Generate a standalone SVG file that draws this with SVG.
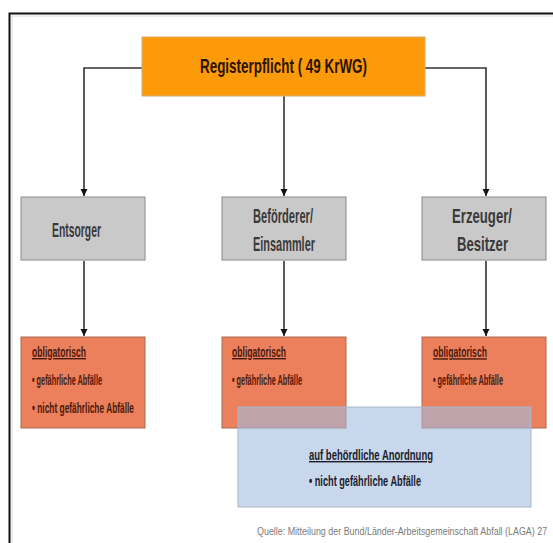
<svg xmlns="http://www.w3.org/2000/svg" width="553" height="543" viewBox="0 0 553 543">
<defs>
<marker id="arr" viewBox="0 0 10 10" refX="10" refY="5" markerWidth="7" markerHeight="8" markerUnits="userSpaceOnUse" orient="auto">
<path d="M0,0 L10,5 L0,10 z" fill="#111"/>
</marker>
<style>
.t{font-family:"Liberation Sans",Arial,sans-serif;}
.head{font-size:21px;font-weight:bold;fill:#2a1400;}
.gray rect{fill:#c9c9c9;stroke:#9a9a9a;stroke-width:1.2;}
.gl{font-size:21px;font-weight:bold;fill:#3a3a3a;}
.red rect{fill:#ec7f5c;stroke:#a86a55;stroke-width:1;}
.rl{font-size:14px;font-weight:bold;fill:#4a1a0c;}
.rb{text-decoration:underline;}
.conn path{fill:none;stroke:#333;stroke-width:1.6;}
.src{font-size:11px;fill:#7a7a7a;}
</style>
</defs>
<rect width="553" height="543" fill="#fff"/>
<path d="M9.5,543 V13.5 H553" fill="none" stroke="#111" stroke-width="2"/>
<path d="M12,543 V16 H553" fill="none" stroke="#ddd" stroke-width="1"/>

<g class="conn">
<path d="M142,68 H84 V196" marker-end="url(#arr)"/>
<path d="M284,96 V196" marker-end="url(#arr)"/>
<path d="M425,68 H486 V196" marker-end="url(#arr)"/>
<path d="M84,261 V336" marker-end="url(#arr)"/>
<path d="M284,261 V336" marker-end="url(#arr)"/>
<path d="M486,261 V336" marker-end="url(#arr)"/>
</g>

<g id="registerpflicht">
<rect x="142" y="37" width="283" height="59" fill="#fd9a0a" stroke="#d9a870" stroke-width="1"/>
<text class="t head" x="200" y="73" textLength="167" lengthAdjust="spacingAndGlyphs">Registerpflicht ( 49 KrWG)</text>
</g>

<g id="entsorger" class="gray">
<rect x="21" y="197" width="124" height="63"/>
<text class="t gl" x="52" y="237" textLength="49" lengthAdjust="spacingAndGlyphs">Entsorger</text>
</g>
<g id="befoerderer" class="gray">
<rect x="222" y="197" width="124" height="63"/>
<text class="t gl" x="253" y="223" textLength="60" lengthAdjust="spacingAndGlyphs">Beförderer/</text>
<text class="t gl" x="253" y="251" textLength="62" lengthAdjust="spacingAndGlyphs">Einsammler</text>
</g>
<g id="erzeuger" class="gray">
<rect x="422" y="197" width="124" height="63"/>
<text class="t gl" transform="translate(452,223) scale(0.6,1)" textLength="100" lengthAdjust="spacingAndGlyphs">Erzeuger/</text>
<text class="t gl" transform="translate(457,251) scale(0.6,1)" textLength="85" lengthAdjust="spacingAndGlyphs">Besitzer</text>
</g>

<g id="obl-entsorger" class="red">
<rect x="21" y="337" width="124" height="91"/>
<text class="t rl rb" x="32" y="357" textLength="54" lengthAdjust="spacingAndGlyphs">obligatorisch</text>
<text class="t rl" x="32" y="385" textLength="70" lengthAdjust="spacingAndGlyphs">• gefährliche Abfälle</text>
<text class="t rl" x="32" y="413" textLength="102" lengthAdjust="spacingAndGlyphs">• nicht gefährliche Abfälle</text>
</g>
<g id="obl-befoerderer" class="red">
<rect x="222" y="337" width="124" height="91"/>
<text class="t rl rb" x="232" y="357" textLength="54" lengthAdjust="spacingAndGlyphs">obligatorisch</text>
<text class="t rl" x="232" y="385" textLength="70" lengthAdjust="spacingAndGlyphs">• gefährliche Abfälle</text>
</g>
<g id="obl-erzeuger" class="red">
<rect x="422" y="337" width="124" height="91"/>
<text class="t rl rb" transform="translate(433,357) scale(0.55,1)" textLength="98" lengthAdjust="spacingAndGlyphs">obligatorisch</text>
<text class="t rl" transform="translate(433,385) scale(0.52,1)" textLength="134.6" lengthAdjust="spacingAndGlyphs">• gefährliche Abfälle</text>
</g>

<g id="anordnung">
<rect x="238" y="407" width="293" height="100" fill="#a3bde0" fill-opacity="0.6" stroke="#a8b6c8" stroke-width="1"/>
<text class="t rl rb" x="309" y="460" font-size="15" textLength="124" lengthAdjust="spacingAndGlyphs" style="fill:#1c1c2a">auf behördliche Anordnung</text>
<text class="t rl" x="309" y="486" font-size="15" textLength="112" lengthAdjust="spacingAndGlyphs" style="fill:#1c1c2a">• nicht gefährliche Abfälle</text>
</g>

<text class="t src" transform="translate(257,535) scale(0.78,1)" textLength="372" lengthAdjust="spacingAndGlyphs">Quelle: Mitteilung der Bund/Länder-Arbeitsgemeinschaft Abfall (LAGA) 27</text>
</svg>
